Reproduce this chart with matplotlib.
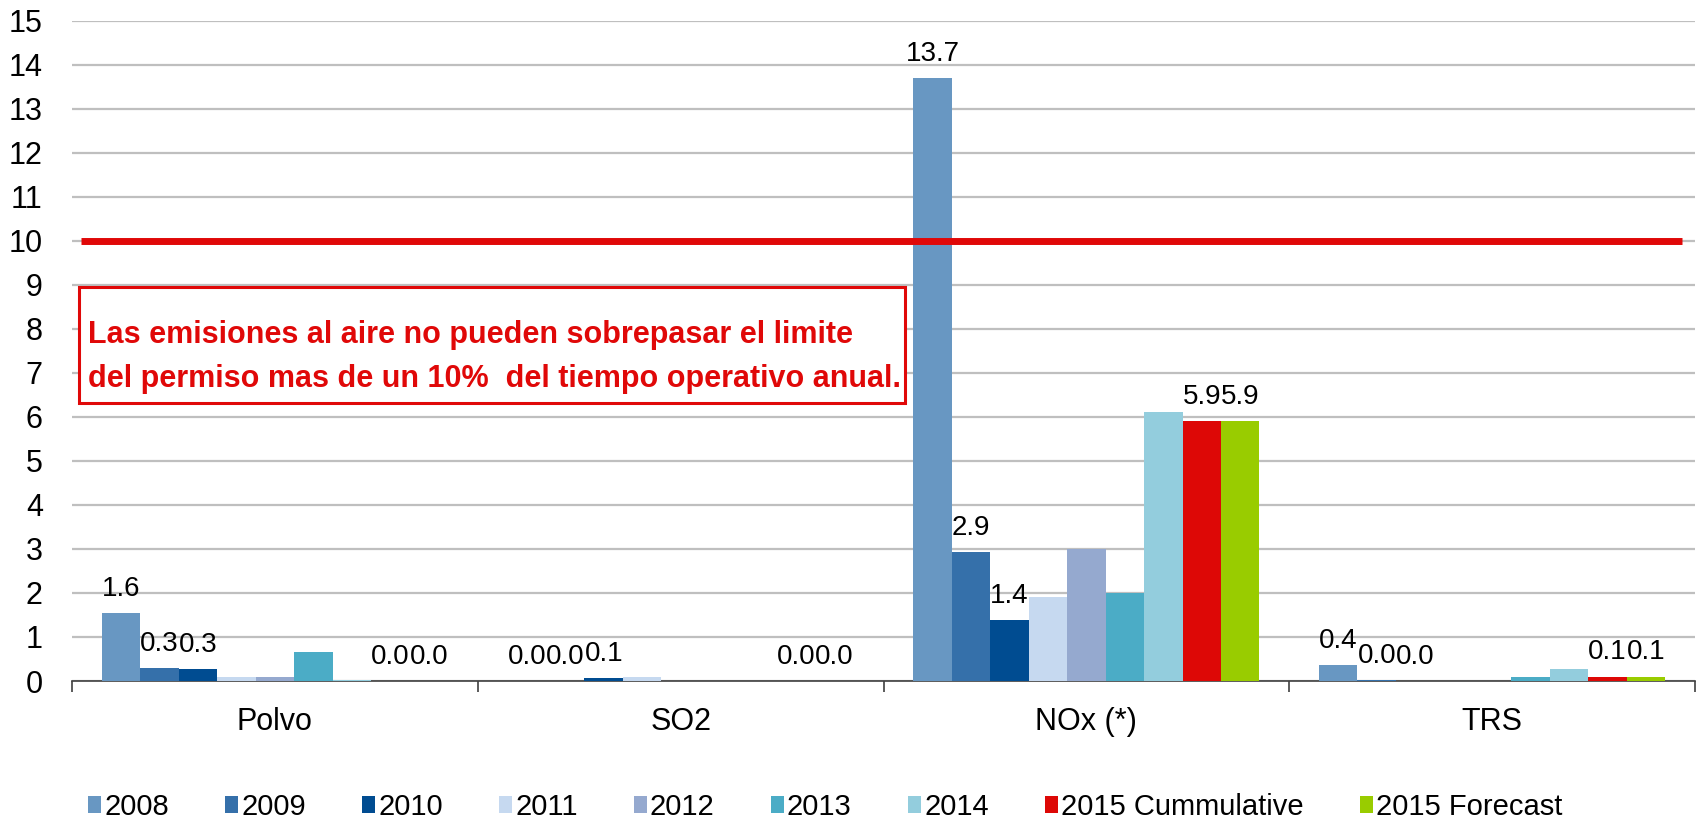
import matplotlib.pyplot as plt
import numpy as np

plt.rcParams['font.family'] = ['Liberation Sans', 'DejaVu Sans']

categories = ['Polvo', 'SO2', 'NOx (*)', 'TRS']
series = ['2008', '2009', '2010', '2011', '2012', '2013', '2014',
          '2015 Cummulative', '2015 Forecast']
colors = ['#6897C2', '#3570AA', '#004C91', '#C6D9F0', '#95A9CF',
          '#4BACC6', '#93CDDD', '#DD0806', '#99CC00']

v2008 = [1.55, 0.0, 13.7, 0.37]
v2009 = [0.3, 0.0, 2.93, 0.03]
v2010 = [0.27, 0.07, 1.38, 0.0]
v2011 = [0.1, 0.09, 1.9, 0.0]
v2012 = [0.1, 0.0, 3.0, 0.0]
v2013 = [0.65, 0.0, 2.0, 0.1]
v2014 = [0.02, 0.0, 6.1, 0.27]
v2015c = [0.0, 0.0, 5.9, 0.1]
v2015f = [0.0, 0.0, 5.9, 0.1]
values = [v2008, v2009, v2010, v2011, v2012, v2013, v2014, v2015c, v2015f]

# only these series carry data labels in the original
labelled = ['2008', '2009', '2010', '2015 Cummulative', '2015 Forecast']
limit = 10

fig = plt.figure(figsize=(16.98, 8.22), dpi=100)
ax = fig.add_axes([72 / 1698, 1 - 681 / 822, (1695 - 72) / 1698, (681 - 20.7) / 822])

x = np.arange(len(categories))
w = 0.0948
for i, (name, vals) in enumerate(zip(series, values)):
    pos = x + (i - 4) * w
    bars = ax.bar(pos, vals, width=w, color=colors[i], label=name, zorder=3)
    if name in labelled:
        for b, v in zip(bars, vals):
            ax.annotate(f'{v:.1f}', (b.get_x() + b.get_width() / 2, v),
                        xytext=(0, 8), textcoords='offset points',
                        ha='center', va='bottom', fontsize=20, zorder=5)

ax.set_xlim(-0.5, 3.5)
ax.set_ylim(0, 15)
ax.set_yticks(range(0, 16))
ax.yaxis.grid(True, color='#BFBFBF', linewidth=1.6, zorder=0)
ax.set_axisbelow(True)
ax.tick_params(axis='y', length=0, pad=21, labelsize=22)

ax.set_xticks(x)
ax.set_xticklabels(categories)
ax.set_xticks(np.arange(-0.5, 4.0, 1.0), minor=True)
ax.tick_params(axis='x', which='major', length=0, pad=19, labelsize=22)
ax.tick_params(axis='x', which='minor', length=8, width=1.2, color='#404040')

for s in ['top', 'right', 'left']:
    ax.spines[s].set_visible(False)
ax.spines['bottom'].set_color('#404040')
ax.spines['bottom'].set_linewidth(1.2)

# 10% limit line
ax.plot([-0.478, 3.468], [limit, limit], color='#E00808', linewidth=5,
        solid_capstyle='butt', zorder=4)

fig.patches.append(plt.Rectangle((79 / 1698, 1 - 403 / 822), (905 - 79) / 1698,
                                 (403 - 287) / 822, transform=fig.transFigure,
                                 fill=True, facecolor='white', edgecolor='#E00808',
                                 linewidth=2.2, zorder=5))
fig.text(88 / 1698, 1 - 357 / 822,
         'Las emisiones al aire no pueden sobrepasar el limite\n'
         'del permiso mas de un 10%  del tiempo operativo anual.',
         color='#E00808', fontsize=22, fontweight='bold', va='center',
         ha='left', linespacing=1.6, zorder=6)

fig.legend(loc='center left', bbox_to_anchor=(88 / 1698, 1 - 807 / 822),
           ncol=9, frameon=False, fontsize=21, handlelength=0.45,
           handleheight=0.5, handletextpad=0.1, columnspacing=1.93,
           borderpad=0, borderaxespad=0)

fig.savefig('out.png', dpi=100)
